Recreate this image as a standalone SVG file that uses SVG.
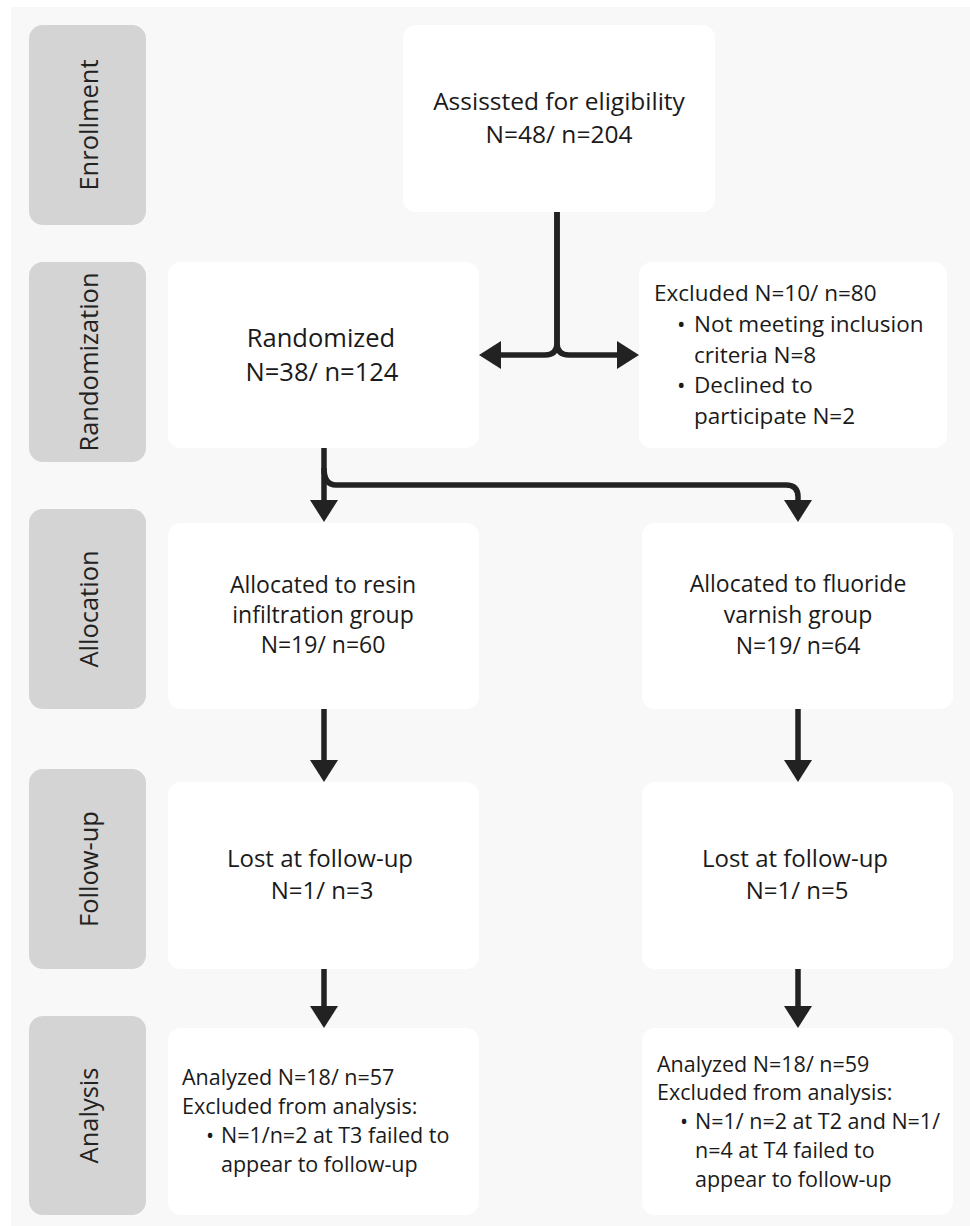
<svg xmlns="http://www.w3.org/2000/svg" width="970" height="1226" viewBox="0 0 970 1226">
<defs>
<style>
.lane{fill:#d4d4d4;}
.box{fill:#ffffff;}
.lt{font-family:"Open Sans","Liberation Sans",sans-serif;font-size:25.5px;fill:#222;text-anchor:middle;dominant-baseline:central;}
.t{font-family:"Open Sans","Liberation Sans",sans-serif;fill:#1a1a1a;}
.c{text-anchor:middle;}
.conn{fill:none;stroke:#222;stroke-width:5.5;stroke-linejoin:round;}
</style>
<marker id="ah" markerUnits="userSpaceOnUse" markerWidth="23" markerHeight="28" refX="0" refY="14" orient="auto" viewBox="0 0 23 28">
<path d="M0,0 L22,14 L0,28 Z" fill="#222"/>
</marker>
</defs>
<rect x="11" y="7" width="959" height="1219" fill="#f8f8f8"/>

<g id="lane-enrollment"><rect class="lane" x="29" y="25" width="117" height="200" rx="14"/><text class="lt" transform="translate(88,125) rotate(-90)">Enrollment</text></g>
<g id="lane-randomization"><rect class="lane" x="29" y="262" width="117" height="200" rx="14"/><text class="lt" transform="translate(88,362) rotate(-90)">Randomization</text></g>
<g id="lane-allocation"><rect class="lane" x="29" y="509" width="117" height="200" rx="14"/><text class="lt" transform="translate(88,609) rotate(-90)">Allocation</text></g>
<g id="lane-followup"><rect class="lane" x="29" y="769" width="117" height="200" rx="14"/><text class="lt" transform="translate(88,869) rotate(-90)">Follow-up</text></g>
<g id="lane-analysis"><rect class="lane" x="29" y="1016" width="117" height="199" rx="14"/><text class="lt" transform="translate(88,1115.5) rotate(-90)">Analysis</text></g>

<g id="node-assessed"><rect class="box" x="403" y="25" width="312" height="187" rx="13"/>
<text class="t c" font-size="24.5" x="559" y="110">Assissted for eligibility</text>
<text class="t c" font-size="24.5" x="559" y="143">N=48/ n=204</text></g>

<g id="node-randomized"><rect class="box" x="168" y="262" width="311" height="186" rx="13"/>
<text class="t c" font-size="25.5" x="321" y="347">Randomized</text>
<text class="t c" font-size="25.5" x="322" y="381">N=38/ n=124</text></g>

<g id="node-excluded"><rect class="box" x="639" y="262" width="308" height="186" rx="13"/>
<text class="t" font-size="22.5" x="654" y="301">Excluded N=10/ n=80</text>
<text class="t" font-size="22.5" x="677" y="332">•</text><text class="t" font-size="22.5" x="694" y="332">Not meeting inclusion</text>
<text class="t" font-size="22.5" x="694" y="363">criteria N=8</text>
<text class="t" font-size="22.5" x="677" y="393">•</text><text class="t" font-size="22.5" x="694" y="393">Declined to</text>
<text class="t" font-size="22.5" x="694" y="424">participate N=2</text></g>

<g id="node-alloc-resin"><rect class="box" x="168" y="523" width="311" height="186" rx="13"/>
<text class="t c" font-size="23" x="323" y="593">Allocated to resin</text>
<text class="t c" font-size="23" x="323" y="623">infiltration group</text>
<text class="t c" font-size="23" x="323" y="653">N=19/ n=60</text></g>

<g id="node-alloc-fluoride"><rect class="box" x="642" y="523" width="311" height="186" rx="13"/>
<text class="t c" font-size="23" x="798" y="592">Allocated to fluoride</text>
<text class="t c" font-size="23" x="798" y="623">varnish group</text>
<text class="t c" font-size="23" x="798" y="654">N=19/ n=64</text></g>

<g id="node-lost-resin"><rect class="box" x="168" y="782" width="311" height="187" rx="13"/>
<text class="t c" font-size="24" x="320" y="867">Lost at follow-up</text>
<text class="t c" font-size="24" x="322" y="899">N=1/ n=3</text></g>

<g id="node-lost-fluoride"><rect class="box" x="642" y="782" width="311" height="187" rx="13"/>
<text class="t c" font-size="24" x="795" y="867">Lost at follow-up</text>
<text class="t c" font-size="24" x="797" y="899">N=1/ n=5</text></g>

<g id="node-analysis-resin"><rect class="box" x="168" y="1028" width="311" height="187" rx="13"/>
<text class="t" font-size="21.5" x="182" y="1085">Analyzed N=18/ n=57</text>
<text class="t" font-size="21.5" x="182" y="1114">Excluded from analysis:</text>
<text class="t" font-size="21.5" x="206" y="1143">•</text><text class="t" font-size="21.5" x="221" y="1143">N=1/n=2 at T3 failed to</text>
<text class="t" font-size="21.5" x="221" y="1172">appear to follow-up</text></g>

<g id="node-analysis-fluoride"><rect class="box" x="642" y="1028" width="311" height="187" rx="13"/>
<text class="t" font-size="21.5" x="657" y="1072">Analyzed N=18/ n=59</text>
<text class="t" font-size="21.5" x="657" y="1100">Excluded from analysis:</text>
<text class="t" font-size="21.5" x="680" y="1129">•</text><text class="t" font-size="21.5" x="695" y="1129">N=1/ n=2 at T2 and N=1/</text>
<text class="t" font-size="21.5" x="695" y="1158">n=4 at T4 failed to</text>
<text class="t" font-size="21.5" x="695" y="1187">appear to follow-up</text></g>

<g id="connectors">
<path class="conn" d="M557,212 V343 Q557,355 545,355 H501" marker-end="url(#ah)"/>
<path class="conn" d="M557,212 V343 Q557,355 569,355 H617" marker-end="url(#ah)"/>
<path class="conn" d="M324,448 V500" marker-end="url(#ah)"/>
<path class="conn" d="M324,468 Q324,485 336,485 H786 Q798,485 798,497 V500" marker-end="url(#ah)"/>
<path class="conn" d="M324,709 V760" marker-end="url(#ah)"/>
<path class="conn" d="M798,709 V760" marker-end="url(#ah)"/>
<path class="conn" d="M324,969 V1006" marker-end="url(#ah)"/>
<path class="conn" d="M798,969 V1006" marker-end="url(#ah)"/>
</g>
</svg>
